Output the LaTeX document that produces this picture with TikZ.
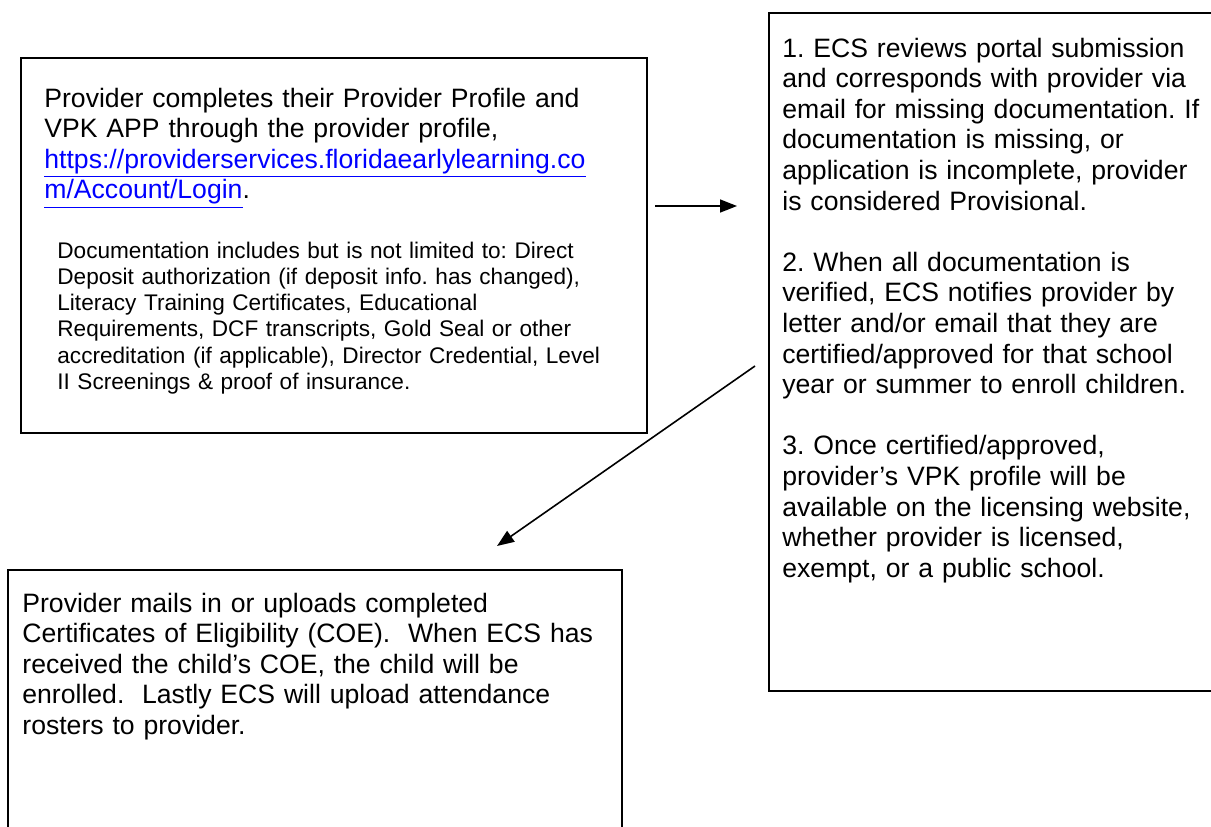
\documentclass[tikz,border=0pt]{standalone}
\usepackage{fontspec}
\setmainfont{Liberation Sans}
\usetikzlibrary{arrows.meta, positioning}
\definecolor{enlace}{HTML}{0000FF}
\newcommand{\vinculo}[1]{\textcolor{enlace}{\underline{#1}}}
\frenchspacing

\begin{document}
\begin{tikzpicture}[
  x=0.5pt, y=-0.5pt,
  caja/.style={draw, line width=1pt, anchor=north west, inner sep=0pt},
  grande/.style={anchor=base west, inner sep=0pt, align=left,
                 font=\fontsize{13.3pt}{15.3pt}\selectfont},
  chico/.style={anchor=base west, inner sep=0pt, align=left,
                 font=\fontsize{11.3pt}{13.15pt}\selectfont},
  arr/.style={-{Triangle[length=8.5pt, width=6.5pt]}, line width=0.8pt},
]
\useasboundingbox (0,0) rectangle (1211,826);

% --- Cajas ---
\node[caja, minimum width=313pt, minimum height=187.5pt] (perfil) at (20,57) {};
\node[caja, minimum width=240pt, minimum height=339pt] (revision) at (768,12) {};
\node[caja, minimum width=307pt, minimum height=170pt] (inscripcion) at (7,569) {};

% --- Textos ---
\node[grande, text width=300pt] (perfiltxt) at (44,107) {Provider completes their Provider Profile and\\
VPK APP through the provider profile,\\
\vinculo{https://providerservices.floridaearlylearning.co}\\
\vinculo{m/Account/Login}.};

\node[chico, text width=280pt] (doctxt) at (57,258) {Documentation includes but is not limited to: Direct\\
Deposit authorization (if deposit info. has changed),\\
Literacy Training Certificates, Educational\\
Requirements, DCF transcripts, Gold Seal or other\\
accreditation (if applicable), Director Credential, Level\\
II Screenings \& proof of insurance.};

\node[grande, text width=220pt] (revisiontxt) at (782,57) {1. ECS reviews portal submission\\
and corresponds with provider via\\
email for missing documentation. If\\
documentation is missing, or\\
application is incomplete, provider\\
is considered Provisional.\\[15.3pt]
2. When all documentation is\\
verified, ECS notifies provider by\\
letter and/or email that they are\\
certified/approved for that school\\
year or summer to enroll children.\\[15.3pt]
3. Once certified/approved,\\
provider’s VPK profile will be\\
available on the licensing website,\\
whether provider is licensed,\\
exempt, or a public school.};

\node[grande, text width=295pt] (inscripciontxt) at (22,612) {Provider mails in or uploads completed\\
Certificates of Eligibility (COE).~ When ECS has\\
received the child’s COE, the child will be\\
enrolled.~ Lastly ECS will upload attendance\\
rosters to provider.};

% --- Flechas ---
\coordinate (h1) at (655,206);
\coordinate (h2) at (737,206);
\draw[arr] (h1) -- (h2);

\coordinate (d1) at (755,366);
\coordinate (d2) at (497,546);
\draw[arr] (d1) -- (d2);

\end{tikzpicture}
\end{document}
